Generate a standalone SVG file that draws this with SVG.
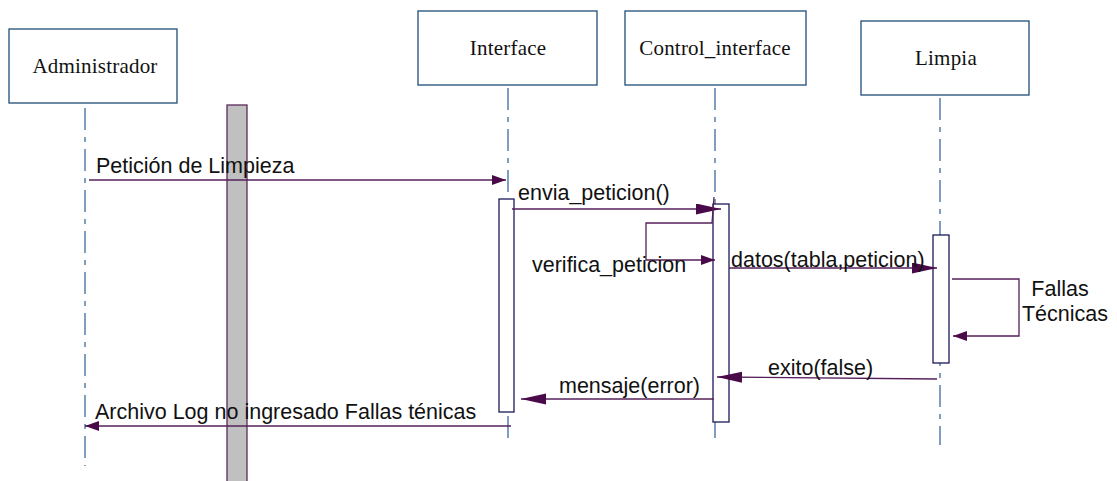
<svg xmlns="http://www.w3.org/2000/svg" width="1117" height="481" viewBox="0 0 1117 481">
<style>
.box{fill:#fff;stroke:#1f4e79;stroke-width:1.3}
.nt{font-family:"Liberation Serif","Times New Roman",serif;font-size:21px;fill:#111;text-anchor:middle;letter-spacing:0.2px}
.ll{stroke:#3d6a9e;stroke-width:1.3;stroke-dasharray:22 7 5 7;fill:none}
.act{fill:#fff;stroke:#1a1a5a;stroke-width:1.3}
.msg{stroke:#55205a;stroke-width:1.3;fill:none}
.mt{font-family:"Liberation Sans",Arial,sans-serif;font-size:21.5px;fill:#111}
</style>
<defs>
<marker id="ah" markerUnits="userSpaceOnUse" markerWidth="14" markerHeight="12" refX="14" refY="5" orient="auto">
<path d="M0,0 L14,5 L0,10 z" fill="#4a0a4a"/>
</marker>
<marker id="al" markerUnits="userSpaceOnUse" markerWidth="25" markerHeight="12" refX="25" refY="5.5" orient="auto">
<path d="M0,0 L25,5.5 L0,11 z" fill="#4a0a4a"/>
</marker>
</defs>
<rect x="0" y="0" width="1117" height="481" fill="#fff"/>
<g id="bar"><rect x="227" y="105" width="20" height="380" fill="#c0c0c0" stroke="#5a2a5a" stroke-width="1.3"/></g>
<g id="administrador">
<rect class="box" x="9" y="29" width="168" height="74"/>
<text class="nt" x="95" y="73">Administrador</text>
<line class="ll" x1="85" y1="108" x2="85" y2="466"/>
</g>
<g id="interface">
<rect class="box" x="418" y="11" width="179" height="74"/>
<text class="nt" x="508" y="55">Interface</text>
<line class="ll" x1="508" y1="88" x2="508" y2="445"/>
<rect class="act" x="499" y="199" width="15" height="213"/>
</g>
<g id="control_interface">
<rect class="box" x="625" y="11" width="181" height="74"/>
<text class="nt" x="715" y="55">Control_interface</text>
<line class="ll" x1="715" y1="88" x2="715" y2="445"/>
<rect class="act" x="713" y="204" width="16" height="218"/>
</g>
<g id="limpia">
<rect class="box" x="861" y="21" width="168" height="74"/>
<text class="nt" x="946" y="65">Limpia</text>
<line class="ll" x1="940" y1="98" x2="940" y2="445"/>
<rect class="act" x="933" y="235" width="16" height="128"/>
</g>
<g id="connectors">
<line class="msg" x1="89" y1="180" x2="506" y2="180" marker-end="url(#ah)"/>
<line class="msg" x1="512" y1="209" x2="721" y2="209" marker-end="url(#al)"/>
<polyline class="msg" points="714,197 712,223 646,223 646,260 715,260" marker-end="url(#ah)"/>
<line class="msg" x1="729" y1="268" x2="937" y2="268" marker-end="url(#al)"/>
<polyline class="msg" points="952,279 1019,279 1019,336 953,336" marker-end="url(#ah)"/>
<line class="msg" x1="937" y1="379" x2="717" y2="377" marker-end="url(#al)"/>
<line class="msg" x1="714" y1="399" x2="521" y2="399" marker-end="url(#al)"/>
<line class="msg" x1="511" y1="426" x2="85" y2="426" marker-end="url(#ah)"/>
</g>
<g id="labels">
<text class="mt" x="96" y="173">Petición de Limpieza</text>
<text class="mt" x="518" y="200">envia_peticion()</text>
<text class="mt" x="532" y="272">verifica_peticion</text>
<text class="mt" x="731" y="267">datos(tabla,peticion)</text>
<text class="mt" x="1060" y="296" text-anchor="middle">Fallas</text>
<text class="mt" x="1065" y="321" text-anchor="middle">Técnicas</text>
<text class="mt" x="768" y="375">exito(false)</text>
<text class="mt" x="559" y="393">mensaje(error)</text>
<text class="mt" x="95" y="419">Archivo Log no ingresado Fallas ténicas</text>
</g>
</svg>
